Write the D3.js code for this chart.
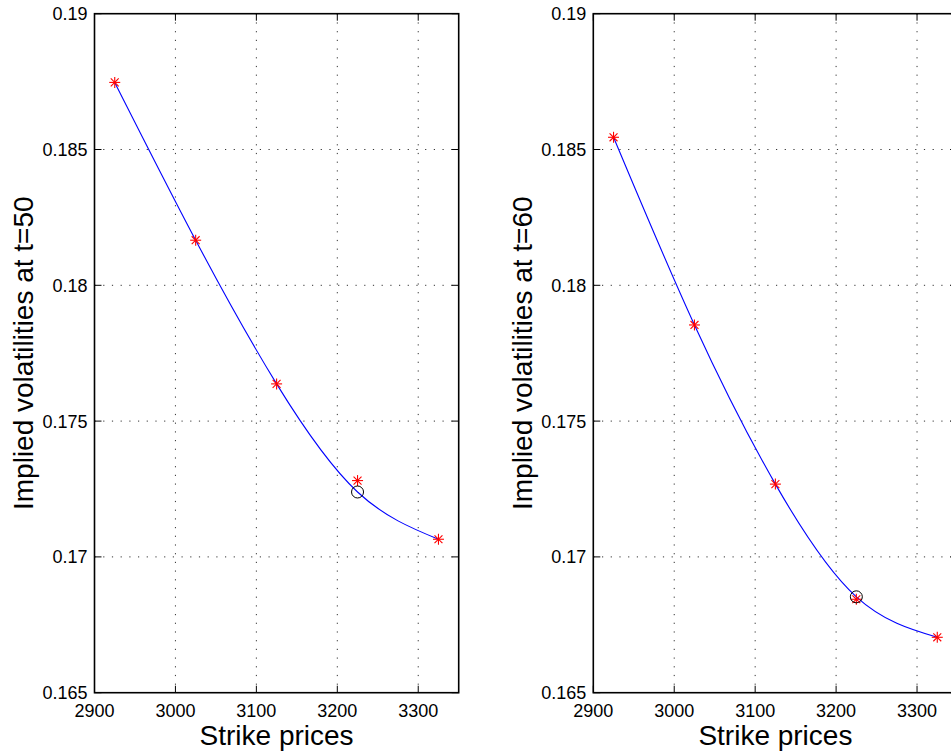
<!DOCTYPE html>
<html>
<head>
<meta charset="utf-8">
<script src="https://cdn.jsdelivr.net/npm/d3@7/dist/d3.min.js"></script>
<style>
  html, body { margin: 0; padding: 0; background: #fff; overflow: hidden; }
  svg { display: block; font-family: "Liberation Sans", Arial, Helvetica, sans-serif; }
</style>
</head>
<body>
<svg id="chart" width="951" height="755"></svg>
<script>
// ---- data ----
const strikes = [2925, 3025, 3125, 3225, 3325];
const volT50 = [0.18747, 0.18166, 0.17637, 0.17281, 0.17065];
const volT60 = [0.18545, 0.17854, 0.17268, 0.16844, 0.16704];
const fitT50 = [0.18747, 0.18166, 0.17637, 0.17239, 0.17065];
const fitT60 = [0.18545, 0.17854, 0.17268, 0.16853, 0.16704];
const circleStrike = 3225;
const circleT50 = 0.17239;
const circleT60 = 0.16853;
const xTicks = [2900, 3000, 3100, 3200, 3300];
const yTicks = [0.165, 0.17, 0.175, 0.18, 0.185, 0.19];
const xGrid = [3000, 3100, 3200, 3300];
const yGrid = [0.17, 0.175, 0.18, 0.185];
const yLabels = ["Implied volatilities at t=50", "Implied volatilities at t=60"];
const xLabel = "Strike prices";

(function () {
const svg = d3.select("#chart");
const panels = [
  { left: 94.5, vols: volT50, fit: fitT50, circ: circleT50, ylab: yLabels[0] },
  { left: 593.3, vols: volT60, fit: fitT60, circ: circleT60, ylab: yLabels[1] }
];
const plotTop = 13.7, plotBottom = 692.7, plotW = 364.2;
const fmtY = d => String(+d.toFixed(3));

panels.forEach(p => {
  const x = d3.scaleLinear().domain([2900, 3350]).range([p.left, p.left + plotW]);
  const y = d3.scaleLinear().domain([0.165, 0.19]).range([plotBottom, plotTop]);
  const g = svg.append("g");

  // grid
  g.selectAll(".vg").data(xGrid).join("line")
    .attr("x1", d => x(d)).attr("x2", d => x(d)).attr("y1", plotTop).attr("y2", plotBottom)
    .attr("stroke", "#333").attr("stroke-width", 1).attr("stroke-dasharray", "1.2,7.5");
  g.selectAll(".hg").data(yGrid).join("line")
    .attr("y1", d => y(d)).attr("y2", d => y(d)).attr("x1", p.left).attr("x2", p.left + plotW)
    .attr("stroke", "#333").attr("stroke-width", 1).attr("stroke-dasharray", "1.2,7.5");

  // ticks (inward, all sides)
  const tl = 7;
  xTicks.forEach(t => {
    g.append("line").attr("x1", x(t)).attr("x2", x(t)).attr("y1", plotBottom).attr("y2", plotBottom - tl).attr("stroke", "#000");
    g.append("line").attr("x1", x(t)).attr("x2", x(t)).attr("y1", plotTop).attr("y2", plotTop + tl).attr("stroke", "#000");
  });
  yTicks.forEach(t => {
    g.append("line").attr("y1", y(t)).attr("y2", y(t)).attr("x1", p.left).attr("x2", p.left + tl).attr("stroke", "#000");
    g.append("line").attr("y1", y(t)).attr("y2", y(t)).attr("x1", p.left + plotW).attr("x2", p.left + plotW - tl).attr("stroke", "#000");
  });

  // box
  g.append("rect").attr("x", p.left).attr("y", plotTop).attr("width", plotW).attr("height", plotBottom - plotTop)
    .attr("fill", "none").attr("stroke", "#000").attr("stroke-width", 1.6);

  // tick labels
  g.selectAll(".xt").data(xTicks).join("text")
    .attr("x", d => x(d)).attr("y", 716.5).attr("text-anchor", "middle")
    .attr("font-size", 18).attr("fill", "#000").text(d => d);
  g.selectAll(".yt").data(yTicks).join("text")
    .attr("x", p.left - 7).attr("y", d => y(d) + 6.5).attr("text-anchor", "end")
    .attr("font-size", 18).attr("fill", "#000").text(fmtY);

  // axis labels
  g.append("text").attr("x", p.left + plotW / 2).attr("y", 745).attr("text-anchor", "middle")
    .attr("font-size", 28).attr("fill", "#000").text(xLabel);
  g.append("text").attr("transform", `translate(${p.left - 61.5},${(plotTop + plotBottom) / 2}) rotate(-90)`)
    .attr("text-anchor", "middle").attr("font-size", 28).attr("fill", "#000").text(p.ylab);

  // fitted curve
  const line = d3.line().x(d => x(d[0])).y(d => y(d[1])).curve(d3.curveNatural);
  g.append("path").datum(strikes.map((s, i) => [s, p.fit[i]]))
    .attr("d", line).attr("fill", "none").attr("stroke", "#0000ff").attr("stroke-width", 1.1);

  // star markers
  const r = 5.5;
  strikes.forEach((s, i) => {
    const cx = x(s), cy = y(p.vols[i]);
    const sg = g.append("g").attr("stroke", "#ff0000").attr("stroke-width", 1.1);
    sg.append("line").attr("x1", cx - r).attr("x2", cx + r).attr("y1", cy).attr("y2", cy);
    sg.append("line").attr("x1", cx).attr("x2", cx).attr("y1", cy - r).attr("y2", cy + r);
    const k = r * 0.72;
    sg.append("line").attr("x1", cx - k).attr("x2", cx + k).attr("y1", cy - k).attr("y2", cy + k);
    sg.append("line").attr("x1", cx - k).attr("x2", cx + k).attr("y1", cy + k).attr("y2", cy - k);
  });

  // circle marker
  g.append("circle").attr("cx", x(circleStrike)).attr("cy", y(p.circ)).attr("r", 6)
    .attr("fill", "none").attr("stroke", "#000").attr("stroke-width", 1);
});
})();
</script>
</body>
</html>
